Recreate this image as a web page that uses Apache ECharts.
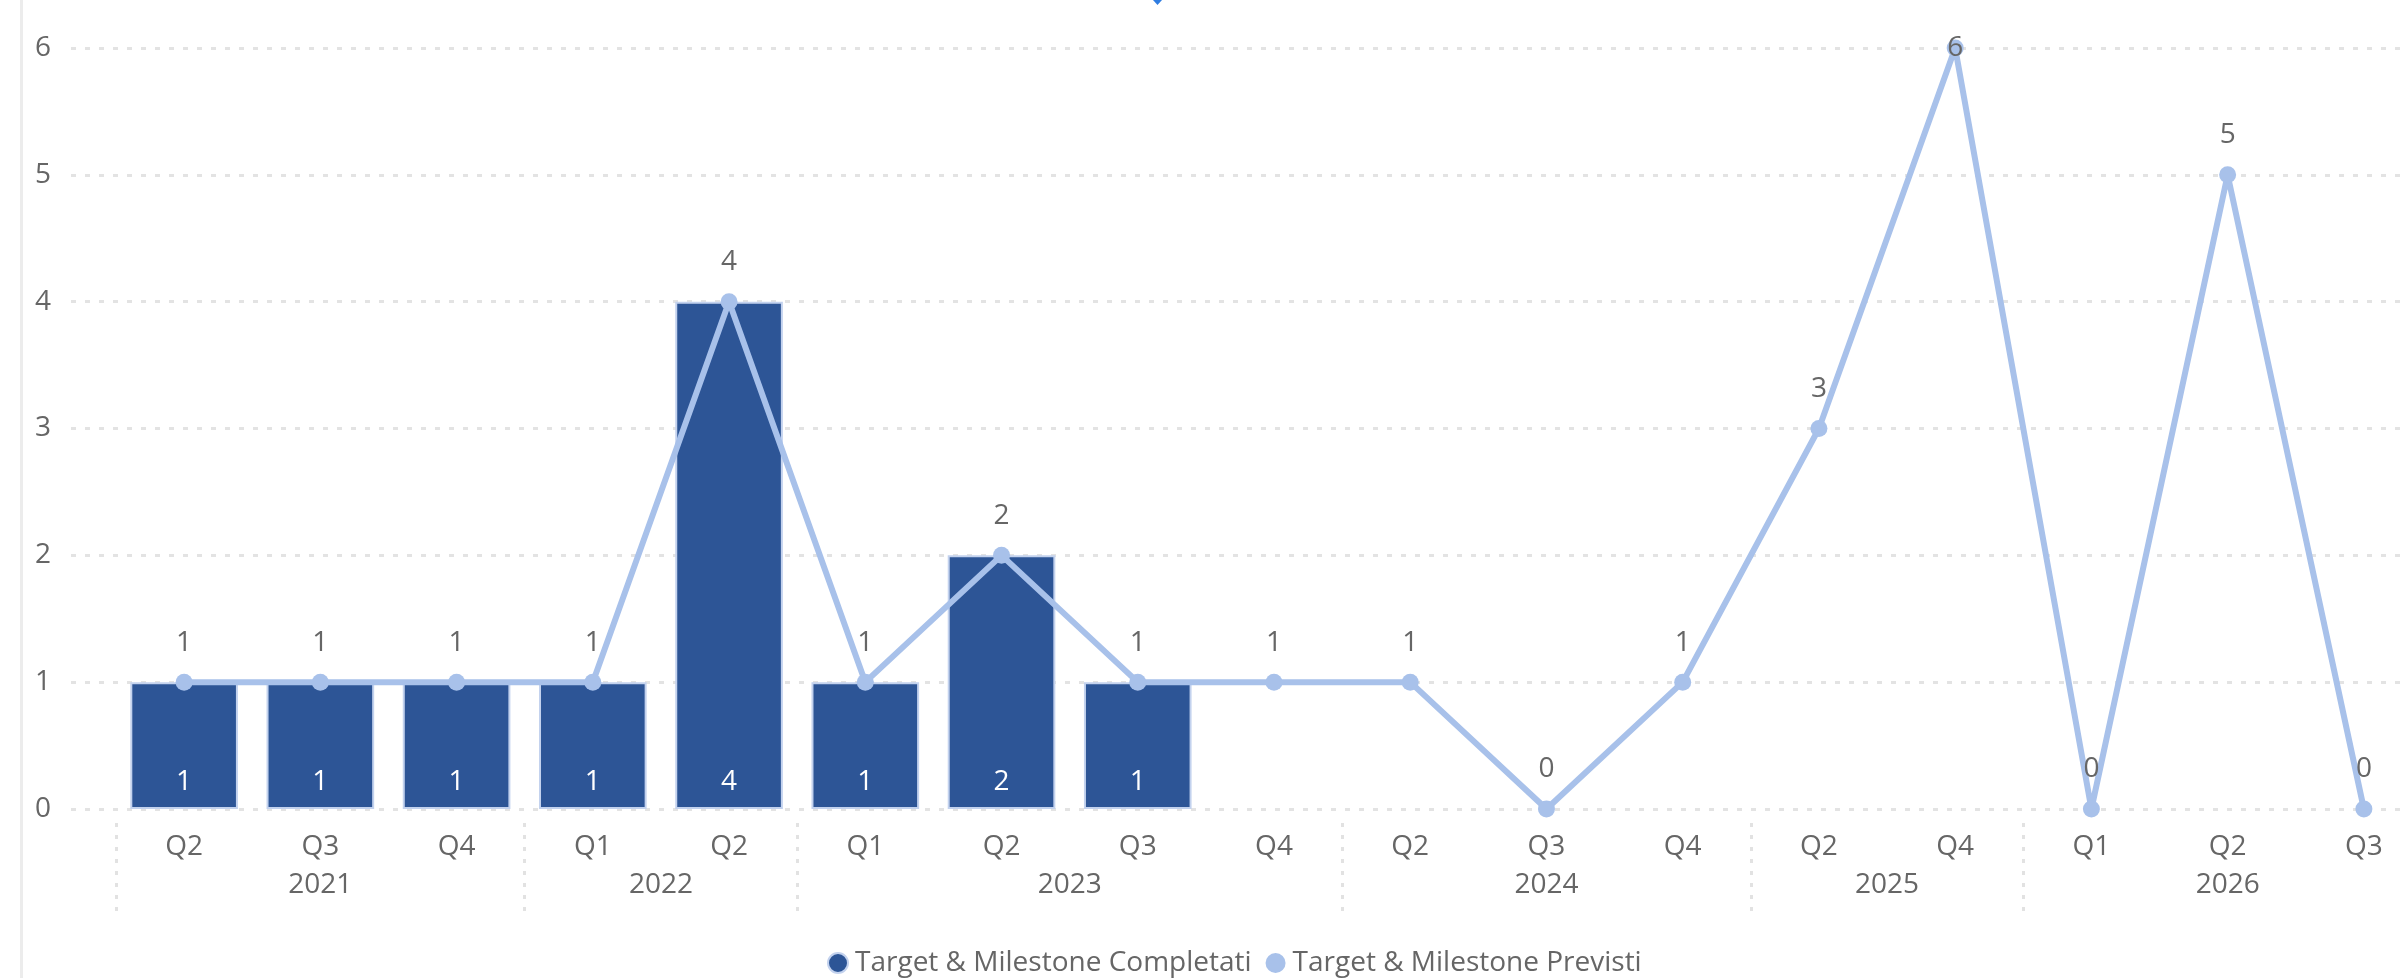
<!DOCTYPE html>
<html>
<head>
<meta charset="utf-8">
<script src="https://cdn.jsdelivr.net/npm/echarts@6/dist/echarts.min.js"></script>
<style>
  html, body { margin: 0; padding: 0; background: #fff; }
  #chart { width: 2400px; height: 978px; }
</style>
</head>
<body>
<div id="chart"></div>
<script>
var quarters = ['Q2','Q3','Q4','Q1','Q2','Q1','Q2','Q3','Q4','Q2','Q3','Q4','Q2','Q4','Q1','Q2','Q3'];
var years = ['2021','2021','2021','2022','2022','2023','2023','2023','2023','2024','2024','2024','2025','2025','2026','2026','2026'];
var completati = [1,1,1,1,4,1,2,1,null,null,null,null,null,null,null,null,null];
var previsti = [1,1,1,1,4,1,2,1,1,1,0,1,3,6,0,5,0];
var yTicks = [0,1,2,3,4,5,6];

var textColor = '#666666';
var fontFamily = '"Open Sans", "Segoe UI", sans-serif';
var yMax = yTicks[yTicks.length - 1];

// year row: half-quarter slots so labels can sit between two quarters
var yearSlots = [];
var yearBounds = [];
for (var j = 0; j <= quarters.length * 2; j++) yearSlots.push('');
var s = 0;
for (var i = 1; i <= years.length; i++) {
  if (i === years.length || years[i] !== years[s]) {
    yearBounds.push(2 * s);
    yearSlots[s + (i - 1) + 1] = years[s];
    s = i;
  }
}
yearBounds.push(quarters.length * 2);

var previstiData = previsti.map(function (v) {
  // no room above the top value: label sits on the point
  if (v === yMax) return { value: v, label: { position: 'inside', distance: 0 } };
  return v;
});

var chart = echarts.init(document.getElementById('chart'));
var option = {
  backgroundColor: '#ffffff',
  animation: false,
  textStyle: { fontFamily: fontFamily },
  legend: {
    left: 822,
    top: 944,
    icon: 'circle',
    itemWidth: 20,
    itemHeight: 20,
    itemGap: 14,
    textStyle: { color: textColor, fontSize: 28, fontFamily: fontFamily, padding: [0, 0, 0, 2] },
    data: ['Target & Milestone Completati', 'Target & Milestone Previsti']
  },
  graphic: [
    { type: 'rect', shape: { x: 20, y: 0, width: 3, height: 978 }, style: { fill: '#ececec' }, silent: true },
    { type: 'polygon', shape: { points: [[1153, 0], [1162, 0], [1157.5, 5]] }, style: { fill: '#2f7de1' }, silent: true }
  ],
  grid: [
    { left: 71, right: 0, top: 48, bottom: 169, outerBoundsMode: 'none' },
    { left: 116, right: -32, top: 48, bottom: 169, outerBoundsMode: 'none' }
  ],
  xAxis: [
    { gridIndex: 0, type: 'value', show: false, min: 0, max: 1 },
    {
      gridIndex: 1,
      type: 'category',
      position: 'bottom',
      data: quarters,
      axisLine: { show: false },
      axisTick: { show: false },
      axisLabel: { interval: 0, color: textColor, fontSize: 28, margin: 24 }
    },
    {
      gridIndex: 1,
      type: 'category',
      position: 'bottom',
      data: yearSlots,
      boundaryGap: false,
      offset: 14,
      axisLine: { show: false },
      axisTick: {
        show: true,
        length: 89,
        interval: function (idx) { return yearBounds.indexOf(idx) >= 0; },
        lineStyle: { color: '#e2e2e2', width: 3, type: [4, 8] }
      },
      axisLabel: { interval: 0, color: textColor, fontSize: 28, margin: 48 }
    }
  ],
  yAxis: [
    {
      gridIndex: 0,
      type: 'value',
      min: yTicks[0],
      max: yMax,
      interval: 1,
      axisLine: { show: false },
      axisTick: { show: false },
      axisLabel: { color: textColor, fontSize: 28, margin: 20 },
      splitLine: { lineStyle: { color: '#e3e3e3', width: 3, type: [5, 9] } }
    },
    { gridIndex: 1, type: 'value', min: yTicks[0], max: yMax, show: false, splitLine: { show: false } }
  ],
  series: [
    {
      name: 'Target & Milestone Completati',
      type: 'bar',
      xAxisIndex: 1,
      yAxisIndex: 1,
      data: completati,
      barCategoryGap: '21%',
      itemStyle: { color: '#2d5596', borderColor: '#c3d2ee', borderWidth: 2 },
      label: {
        show: true,
        position: 'insideBottom',
        distance: 13,
        color: '#ffffff',
        fontSize: 28
      }
    },
    {
      name: 'Target & Milestone Previsti',
      type: 'line',
      xAxisIndex: 1,
      yAxisIndex: 1,
      data: previstiData,
      symbol: 'circle',
      symbolSize: 17,
      showAllSymbol: true,
      z: 5,
      lineStyle: { color: '#a8c1ea', width: 6 },
      itemStyle: { color: '#a8c1ea' },
      label: {
        show: true,
        position: 'top',
        distance: 17,
        color: textColor,
        fontSize: 28
      }
    }
  ]
};
chart.setOption(option);
</script>
</body>
</html>
